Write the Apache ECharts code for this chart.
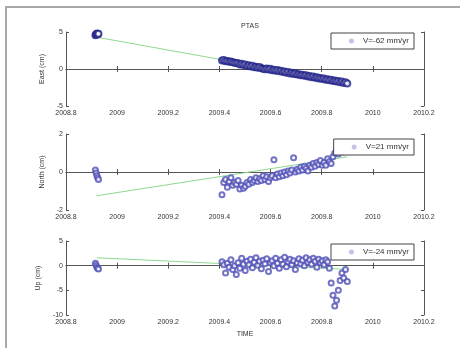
<!DOCTYPE html>
<html>
<head>
<meta charset="utf-8">
<script src="https://cdn.jsdelivr.net/npm/echarts@6/dist/echarts.min.js"></script>
<style>
  body { margin: 0; background: #fff; }
  #wrap { position: relative; width: 460px; height: 348px; }
  #chart { width: 460px; height: 348px; }
  #frame { position: absolute; left: 5px; top: 6px; right: 0; bottom: 0;
           border-left: 2px solid #a8a8a8; border-top: 2px solid #a8a8a8; pointer-events: none; }
</style>
</head>
<body>
<div id="wrap">
  <div id="chart"></div>
  <div id="frame"></div>
</div>
<script>
// station time series, cm
const tFirst = [2008.915, 2008.918, 2008.921, 2008.924, 2008.927]
const tMain = [
  2009.410, 2009.417, 2009.424, 2009.431, 2009.438, 2009.445, 2009.452, 2009.459, 2009.466, 2009.473,
  2009.480, 2009.487, 2009.494, 2009.501, 2009.508, 2009.515, 2009.522, 2009.529, 2009.536, 2009.543,
  2009.550, 2009.557, 2009.564, 2009.571, 2009.578, 2009.585, 2009.592, 2009.599, 2009.606, 2009.613,
  2009.620, 2009.627, 2009.634, 2009.641, 2009.648, 2009.655, 2009.662, 2009.669, 2009.676, 2009.683,
  2009.690, 2009.697, 2009.704, 2009.711, 2009.718, 2009.725, 2009.732, 2009.739, 2009.746, 2009.753,
  2009.760, 2009.767, 2009.774, 2009.781, 2009.788, 2009.795, 2009.802, 2009.809, 2009.816, 2009.823,
  2009.830, 2009.837, 2009.844, 2009.851, 2009.858, 2009.865, 2009.872, 2009.879, 2009.886, 2009.893,
  2009.900
]
const eastFirst = [4.55, 4.70, 4.80, 4.65, 4.75]
const eastMain = [
  1.15, 1.20, 1.05, 1.08, 0.98, 1.00, 0.90, 0.85, 0.80, 0.78,
  0.62, 0.70, 0.55, 0.60, 0.42, 0.52, 0.35, 0.45, 0.25, 0.30,
  0.18, 0.28, 0.10, 0.05, -0.02, 0.08, -0.08, 0.02, -0.18, -0.10,
  -0.25, -0.15, -0.32, -0.25, -0.42, -0.35, -0.50, -0.42, -0.60, -0.52,
  -0.68, -0.58, -0.75, -0.70, -0.85, -0.78, -0.92, -0.85, -1.02, -0.95,
  -1.10, -1.02, -1.18, -1.10, -1.28, -1.20, -1.35, -1.28, -1.45, -1.38,
  -1.52, -1.45, -1.62, -1.55, -1.70, -1.62, -1.80, -1.70, -1.88, -1.80,
  -1.95
]
const northFirst = [0.10, -0.05, -0.20, -0.30, -0.40]
const northMain = [
  -1.20, -0.55, -0.40, -0.80, -0.50, -0.30, -0.70, -0.55, -0.65, -0.45,
  -0.90, -0.70, -0.85, -0.75, -0.55, -0.65, -0.40, -0.55, -0.45, -0.30,
  -0.50, -0.35, -0.45, -0.20, -0.40, -0.25, -0.50, -0.30, -0.20, 0.65,
  -0.30, -0.10, -0.25, -0.05, -0.20, 0.00, -0.15, 0.05, -0.05, 0.10,
  0.75, 0.00, 0.15, 0.05, 0.25, 0.10, 0.30, 0.20, 0.05, 0.35,
  0.25, 0.45, 0.30, 0.50, 0.40, 0.60, 0.35, 0.50, 0.35, 0.70,
  0.55, 0.45, 0.80, 1.00, 1.15, 0.95, 1.10, 1.25, 1.05, 1.30,
  1.20
]
const upFirst = [0.5, 0.1, -0.3, -0.5, -0.7]
const upMain = [
  0.8, 0.2, -1.5, 0.5, -0.3, 1.2, -0.8, 0.0, -1.8, 0.6,
  -0.5, 1.5, 0.3, -1.0, 0.9, 0.2, 1.3, -0.4, 0.7, 1.6,
  0.1, 0.9, -0.6, 1.1, 0.4, 1.4, -1.2, 0.6, 1.0, 0.0,
  1.5, 0.5, -0.5, 1.2, 0.3, 1.7, -0.2, 0.8, 1.3, 0.2,
  1.0, -0.8, 0.6, 1.4, 0.4, 1.1, 0.0, 1.6, 0.7, 1.2,
  0.3, 1.5, 0.9, -0.3, 1.3, 0.6, 1.0, 0.2, 1.2, 0.8,
  -0.5, -3.5, -6.0, -8.2, -7.0, -5.0, -3.0, -1.5, -2.5, -0.8,
  -3.2
]
// linear fits
const fitT = [2008.92, 2009.90]
const fitEast = [4.3, -1.8]
const fitNorth = [-1.25, 0.8]
const fitUp = [1.6, -0.75]

const names = ['V=-62 mm/yr', 'V=21 mm/yr', 'V=-24 mm/yr']
const yLabels = ['East (cm)', 'North (cm)', 'Up (cm)']
const yRanges = [[-5, 5, 5], [-2, 2, 2], [-10, 5, 5]]
const xMin = 2008.8, xMax = 2010.2, xStep = 0.2

const zip = (xs, ys) => xs.map((x, i) => [x, ys[i]])

const grids = [
  { left: 66, right: 36, top: 32, height: 74 },
  { left: 66, right: 36, top: 134, height: 76 },
  { left: 66, right: 36, top: 241, height: 74 }
]
const txt = { color: '#333', fontSize: 7, fontFamily: 'Liberation Sans' }
const axisLine = { show: true, lineStyle: { color: '#555', width: 1 } }

const xAxis = []
const yAxis = []
grids.forEach((g, i) => {
  xAxis.push({
    type: 'value', gridIndex: i, min: xMin, max: xMax, interval: xStep,
    axisLine, splitLine: { show: false },
    axisTick: { inside: true, length: 3, lineStyle: { color: '#555' } },
    axisLabel: { ...txt, margin: 4, formatter: v => String(Math.round(v * 10) / 10) },
    name: i === 2 ? 'TIME' : '', nameLocation: 'middle', nameGap: 16, nameTextStyle: txt
  })
  xAxis.push({
    type: 'value', gridIndex: i, position: 'top', min: xMin, max: xMax, interval: xStep,
    axisLine, splitLine: { show: false }, axisLabel: { show: false },
    axisTick: { inside: true, length: 3, lineStyle: { color: '#555' } }
  })
  const [lo, hi, step] = yRanges[i]
  yAxis.push({
    type: 'value', gridIndex: i, min: lo, max: hi, interval: step,
    axisLine, splitLine: { show: false },
    axisTick: { inside: true, length: 3, lineStyle: { color: '#555' } },
    axisLabel: { ...txt, margin: 3 },
    name: yLabels[i], nameLocation: 'middle', nameGap: i === 2 ? 22 : 16, nameTextStyle: txt
  })
  yAxis.push({
    type: 'value', gridIndex: i, position: 'right', min: lo, max: hi, interval: step,
    axisLine, splitLine: { show: false }, axisLabel: { show: false },
    axisTick: { inside: true, length: 3, lineStyle: { color: '#555' } }
  })
})

const panels = [
  [eastFirst, eastMain, fitEast],
  [northFirst, northMain, fitNorth],
  [upFirst, upMain, fitUp]
]
const dotColors = ['#22228a', '#5050b8', '#5050b8']
const dotSizes = [6, 5, 5]

const series = []
panels.forEach(([first, main, fit], i) => {
  series.push({
    type: 'line', xAxisIndex: i * 2, yAxisIndex: i * 2, z: 1,
    data: zip(fitT, fit), symbol: 'none', silent: true,
    lineStyle: { color: '#8fd88f', width: 1 }
  })
  series.push({
    name: names[i], type: 'scatter', xAxisIndex: i * 2, yAxisIndex: i * 2, z: 2,
    data: zip(tFirst, first).concat(zip(tMain, main)),
    symbol: 'emptyCircle', symbolSize: dotSizes[i],
    itemStyle: { color: dotColors[i], borderWidth: 1, opacity: 0.8 }
  })
})

const legendTops = [33, 139, 244]
const legend = names.map((n, i) => ({
  data: [n], icon: 'circle',
  itemStyle: { color: '#b4b4e2', borderWidth: 0 },
  right: 46, top: legendTops[i], orient: 'vertical',
  selectedMode: false, backgroundColor: '#fff', borderColor: '#444', borderWidth: 1,
  padding: [4, 5, 4, 18], itemWidth: 5, itemHeight: 5, itemGap: 2,
  textStyle: { ...txt, fontSize: 8, padding: [0, 0, 0, 4] }
}))

const chart = echarts.init(document.getElementById('chart'), null, { renderer: 'canvas' })
chart.setOption({
  animation: false,
  backgroundColor: '#fff',
  title: { text: 'PTAS', left: 245, top: 18, textAlign: 'center',
           textStyle: { ...txt, fontWeight: 'normal' } },
  grid: grids,
  xAxis, yAxis, series, legend
})
</script>
</body>
</html>
